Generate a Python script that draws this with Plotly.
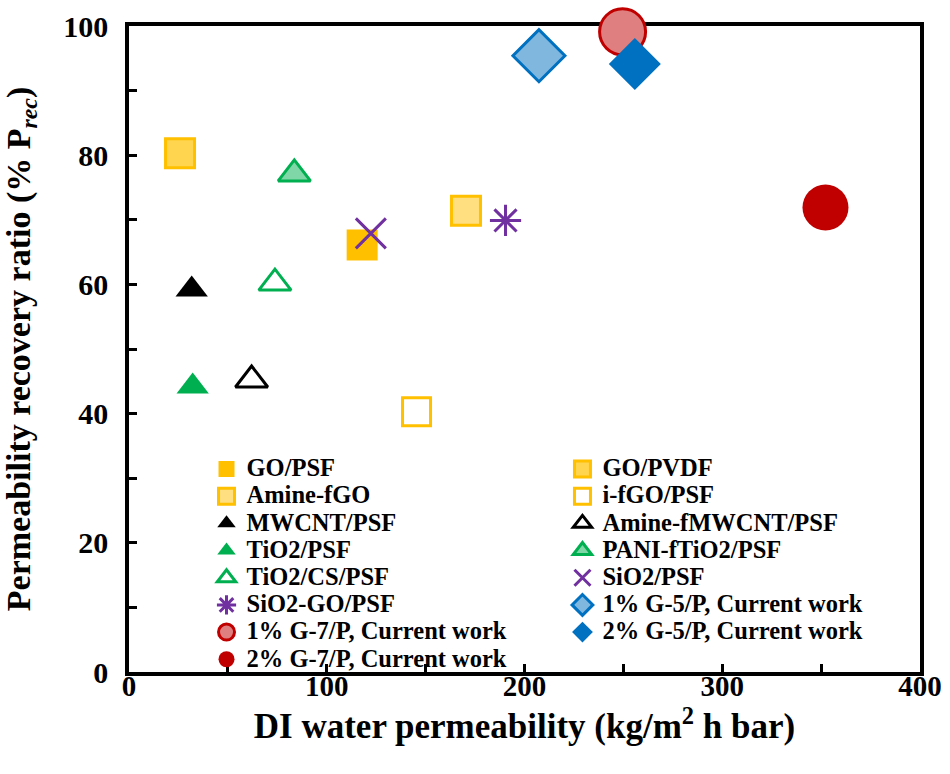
import plotly.graph_objects as go

# ---- data ----
names = ["GO/PSF", "GO/PVDF", "Amine-fGO", "i-fGO/PSF", "MWCNT/PSF",
         "Amine-fMWCNT/PSF", "TiO2/PSF", "PANI-fTiO2/PSF", "TiO2/CS/PSF",
         "SiO2/PSF", "SiO2-GO/PSF", "1% G-5/P, Current work",
         "1% G-7/P, Current work", "2% G-5/P, Current work",
         "2% G-7/P, Current work"]
permeability = [117.9, 25.8, 170.4, 145.4, 31.7, 62.0, 32.2, 83.6, 73.8,
                122.3, 190.4, 207.3, 249.6, 255.8, 352.2]
recovery = [66.1, 80.3, 71.4, 40.3, 59.2, 45.2, 44.2, 77.1, 60.2,
            67.9, 69.9, 95.4, 99.1, 94.1, 71.9]

# ---- styles ----
symbols = ["square", "square", "square", "square-open", "triangle-up",
           "triangle-up-open", "triangle-up", "triangle-up", "triangle-up-open",
           "x-thin-open", "asterisk-open", "diamond", "circle", "diamond", "circle"]
edge_colors = ["#FFC000", "#FFC000", "#FFC000", "#FFC000", "#000000",
               "#000000", "#00B050", "#00B050", "#00B050",
               "#7030A0", "#7030A0", "#0070C0", "#C00000", "#0070C0", "#C00000"]
fill_colors = ["#FFC000", "#FFD54F", "#FFDF80", "#FFC000", "#000000",
               "#000000", "#00B050", "#7FD7A7", "#00B050",
               "#7030A0", "#7030A0", "#7FB7DF", "#DF7F7F", "#0070C0", "#C00000"]
sizes = [31, 29, 29, 28, 28, 28, 28, 28, 28, 30, 26, 40, 46, 40, 46]
edge_widths = [0, 3, 3, 3, 0, 3, 0, 3, 3, 3, 3, 3, 3, 0, 0]
legend_ids = ["legend" if i % 2 == 0 else "legend2" for i in range(len(names))]

FONT = "Liberation Serif"

fig = go.Figure()
for i, nm in enumerate(names):
    fig.add_trace(go.Scatter(
        x=[permeability[i]], y=[recovery[i]], mode="markers",
        name=f'<span style="font-size:24.5px">{nm}</span>',
        legend=legend_ids[i], cliponaxis=False,
        marker=dict(symbol=symbols[i], size=sizes[i], color=fill_colors[i],
                    line=dict(color=edge_colors[i], width=edge_widths[i])),
    ))

axis_common = dict(
    showline=True, linecolor="black", linewidth=3.5, mirror=True,
    ticks="inside", ticklen=8, tickwidth=3, tickcolor="black",
    showgrid=False, zeroline=False, layer="below traces",
)

fig.update_xaxes(
    range=[0, 400], dtick=100, tick0=0,
    minor=dict(dtick=50, ticks="inside", ticklen=8, tickwidth=3, tickcolor="black"),
    tickfont=dict(family=FONT, size=29, color="black", weight="bold"),
    title=dict(text="DI water permeability (kg/m<sup>2</sup> h bar)",
               font=dict(family=FONT, size=35, color="black", weight="bold"),
               standoff=0),
    ticklabelstandoff=-15,
    **axis_common)
fig.update_yaxes(
    range=[0, 100], dtick=20, tick0=0,
    minor=dict(dtick=10, ticks="inside", ticklen=8, tickwidth=3, tickcolor="black"),
    tickfont=dict(family=FONT, size=30, color="black", weight="bold"),
    title=dict(text="Permeability recovery ratio (% P<sub><i>rec</i></sub>)",
               font=dict(family=FONT, size=34, color="black", weight="bold"),
               standoff=24),
    ticklabelstandoff=11,
    **axis_common)

legend_common = dict(
    bgcolor="rgba(0,0,0,0)", borderwidth=0, yanchor="top", xanchor="left",
    font=dict(family=FONT, size=18.6, color="black", weight="bold"),
    tracegroupgap=0, itemwidth=30,
)
fig.update_layout(
    width=950, height=774,
    margin=dict(l=129, r=30, t=26, b=102, autoexpand=False),
    paper_bgcolor="white", plot_bgcolor="white",
    showlegend=True,
    legend=dict(x=0.098, y=0.343, **legend_common),
    legend2=dict(x=0.548, y=0.343, **legend_common),
)

fig.write_html("out.html")
